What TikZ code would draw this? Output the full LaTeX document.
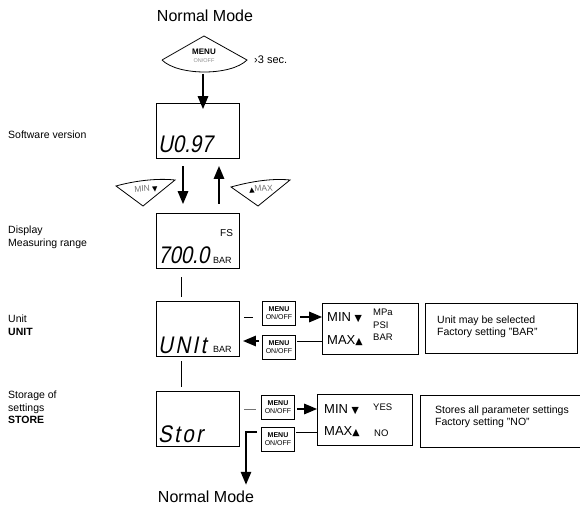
\documentclass[tikz,border=0pt]{standalone}
\usepackage{fontspec}
\setmainfont{Liberation Sans}
\newfontfamily\symfont{DejaVu Sans}
\newfontfamily\lcdfont{Liberation Sans}[FakeSlant=0.2,FakeStretch=0.85]
\usepackage{tikz}
\usetikzlibrary{shapes.geometric, arrows}
\usepackage{color,xcolor}

\begin{document}
\begin{tikzpicture}[x=1pt,y=-1pt,
  title/.style={font=\fontsize{16}{16}\selectfont},
  lab/.style={font=\fontsize{10.5}{12.3}\selectfont, align=left, anchor=north west, inner sep=0pt},
  disp/.style={draw, line width=1.1pt, minimum width=83pt, minimum height=55pt, anchor=north west, inner sep=0pt},
  lcd/.style={font=\lcdfont\fontsize{24}{24}\selectfont, anchor=base west, inner sep=0pt},
  wide/.style={font=\lcdfont\fontsize{24}{24}\selectfont\addfontfeature{LetterSpace=10}},
  small/.style={font=\fontsize{9}{9}\selectfont, anchor=base west, inner sep=0pt},
  key/.style={draw, line width=1pt, minimum width=33pt, minimum height=24pt, anchor=north west, inner sep=0pt, align=center, font=\fontsize{7}{8}\selectfont},
  selbox/.style={draw, line width=1pt, minimum width=96pt, minimum height=51pt, anchor=north west, inner sep=0pt},
  note/.style={draw, line width=1pt, anchor=north west, inner sep=0pt},
  arr/.style={line width=2pt, -triangle 45},
  conn/.style={line width=0.8pt}]
\useasboundingbox (0,0) rectangle (580,510);

\node[title] (top) at (205,16) {Normal Mode};
\draw[line width=0.8pt] (162,60) -- (204,36) -- (247,60) .. controls (231,76) and (178,76) .. (162,60);
\node[font=\bfseries\fontsize{8}{8}\selectfont, inner sep=0pt] (menu) at (204,52) {MENU};
\node[font=\fontsize{5.5}{6}\selectfont, text=black!45, inner sep=0pt] (onoff) at (204,61) {ON/OFF};
\node[font=\fontsize{11}{11}\selectfont, anchor=west, inner sep=0pt] (sec) at (254,60) {›3 sec.};
\coordinate (k) at (203,74);

\node[lab] (l1) at (8,131) {Software version};
\node[lab] (l2) at (8,226) {Display\\Measuring range};
\node[lab] (l3) at (8,315) {Unit\\\textbf{UNIT}};
\node[lab] (l4) at (8,391) {Storage of\\settings\\\textbf{STORE}};

\node[disp] (d1) at (156,103) {};
\node[lcd] (v1) at (158,153) {U0.97};
\node[disp] (d2) at (156,213) {};
\node[small, font=\fontsize{10}{10}\selectfont] (fs) at (220,237) {FS};
\node[lcd] (v2) at (158,264) {700.0};
\node[small] (u2) at (213,264) {BAR};
\node[disp] (d3) at (156,301) {};
\node[lcd, wide] (v3) at (158,353) {UNIt};
\node[small] (u3) at (213,352) {BAR};
\node[disp] (d4) at (156,391) {};
\node[lcd, wide] (v4) at (158,442) {Stor};

% min / max keys
\draw[line width=0.8pt] (116,186) .. controls (134,181) and (156,178) .. (175,180) -- (143,206) -- cycle;
\node[font=\fontsize{8.5}{9}\selectfont, text=black!55, rotate=4] (kmin) at (146,189) {MIN {\symfont\color{black}\fontsize{7}{7}\selectfont▼}};
\draw[line width=0.8pt] (231,187) .. controls (249,182) and (271,178) .. (290,180) -- (258,206) -- cycle;
\node[font=\fontsize{8.5}{9}\selectfont, text=black!55, rotate=4] (kmax) at (261,189) {{\symfont\color{black}\fontsize{7}{7}\selectfont▲}MAX};

\coordinate (dn) at (183,0);
\coordinate (up) at (219,0);
\coordinate (ln) at (181,0);
\draw[arr] (k) -- ([yshift=-6pt]k |- d1.north);
\draw[arr, shorten <=7pt, shorten >=9pt] (d1.south -| dn) -- (d2.north -| dn);
\draw[arr, shorten <=9pt, shorten >=7pt] (d2.north -| up) -- (d1.south -| up);
\draw[conn, shorten <=8pt, shorten >=4pt] (d2.south -| ln) -- (d3.north -| ln);
\draw[conn, shorten <=4pt, shorten >=4pt] (d3.south -| ln) -- (d4.north -| ln);

% unit row
\coordinate (r1) at (0,317);
\coordinate (r2) at (0,341);
\node[key] (k1) at (262,301) {\textbf{MENU}\\ON/OFF};
\node[key] (k2) at (262,335) {\textbf{MENU}\\ON/OFF};
\node[selbox] (s1) at (322,303) {};
\node[font=\fontsize{13}{13}\selectfont, anchor=base west, inner sep=0pt] (min1) at (327,321) {MIN {\symfont\fontsize{9.5}{9.5}\selectfont▼}};
\node[font=\fontsize{13}{13}\selectfont, anchor=base west, inner sep=0pt] (max1) at (327,344) {MAX{\symfont\fontsize{9.5}{9.5}\selectfont▲}};
\node[small, align=left, anchor=north west, font=\fontsize{9.5}{12.5}\selectfont] (opt1) at (373,309) {MPa\\PSI\\BAR};
\node[note, minimum width=152pt, minimum height=50pt] (n1) at (425,303) {};
\node[lab, font=\fontsize{10.5}{11.5}\selectfont] (t1) at (437,316) {Unit may be selected\\Factory setting "BAR"};
\draw[conn, shorten <=4pt, shorten >=9pt] (d3.east |- r1) -- (k1.west |- r1);
\draw[arr, shorten <=4pt] (k1.east |- r1) -- (s1.west |- r1);
\draw[conn, shorten <=1pt] (k2.east |- r2) -- (s1.west |- r2);
\draw[arr, shorten <=3pt, shorten >=3pt] (k2.west |- r2) -- (d3.east |- r2);

% store row
\coordinate (r3) at (0,409);
\coordinate (r4) at (0,432);
\node[key] (k3) at (261,395) {\textbf{MENU}\\ON/OFF};
\node[key] (k4) at (261,427) {\textbf{MENU}\\ON/OFF};
\node[selbox, minimum width=95pt] (s2) at (317,394) {};
\node[font=\fontsize{13}{13}\selectfont, anchor=base west, inner sep=0pt] (min2) at (324,413) {MIN {\symfont\fontsize{9.5}{9.5}\selectfont▼}};
\node[font=\fontsize{13}{13}\selectfont, anchor=base west, inner sep=0pt] (max2) at (324,435) {MAX{\symfont\fontsize{9.5}{9.5}\selectfont▲}};
\node[small, font=\fontsize{9.5}{9.5}\selectfont] (yes) at (373,410) {YES};
\node[small, font=\fontsize{9.5}{9.5}\selectfont] (no) at (374,436) {NO};
\node[note, minimum width=175pt, minimum height=52pt] (n2) at (420,395) {};
\node[lab, font=\fontsize{10.5}{11.5}\selectfont] (t2) at (435,406) {Stores all parameter settings\\Factory setting "NO"};
\draw[conn, draw=black!55, shorten <=4pt, shorten >=5pt] (d4.east |- r3) -- (k3.west |- r3);
\draw[arr, shorten <=2pt] (k3.east |- r3) -- (s2.west |- r3);
\draw[conn, shorten <=1pt] (k4.east |- r4) -- (s2.west |- r4);

\node[title] (bot) at (206,497) {Normal Mode};
\coordinate (turn) at (246,432);
\draw[arr, shorten >=3pt] ([xshift=-4pt]k4.west |- r4) -- (turn) -- (turn |- bot.north);
\end{tikzpicture}
\end{document}
